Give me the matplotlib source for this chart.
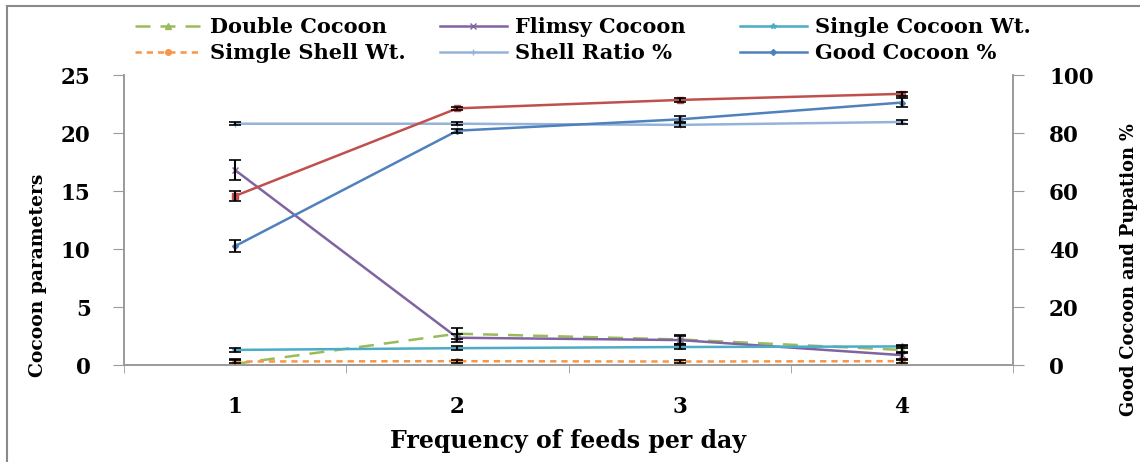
import matplotlib
matplotlib.use("Agg")
import matplotlib.pyplot as plt
from matplotlib.lines import Line2D
import numpy as np

# feeds per day
feeds = [1, 2, 3, 4]

# left axis (cocoon parameters)
double_cocoon = [0.1, 2.7, 2.2, 1.3]
double_err = [0.4, 0.45, 0.4, 0.3]
flimsy_cocoon = [16.8, 2.35, 2.15, 0.85]
flimsy_err = [0.88, 0.35, 0.35, 0.3]
single_cocoon_wt = [1.3, 1.45, 1.55, 1.6]
single_cocoon_err = [0.15, 0.15, 0.15, 0.15]
single_shell_wt = [0.3, 0.33, 0.3, 0.33]
single_shell_err = [0.12, 0.12, 0.12, 0.12]
shell_ratio = [20.8, 20.8, 20.7, 20.95]
shell_ratio_err = [0.14, 0.14, 0.14, 0.14]

# right axis (%)
good_cocoon = [41, 80.8, 84.7, 90.5]
good_err = [2.1, 0.7, 1.0, 1.6]
pupation = [58.3, 88.5, 91.4, 93.5]
pupation_err = [1.7, 0.55, 0.55, 0.8]

FONT = "DejaVu Serif"
GRID = "#9a9a9a"

fig = plt.figure(figsize=(11.4, 4.62), dpi=100)
ax = fig.add_axes([124 / 1140, 1 - 365 / 462, 889 / 1140, 290 / 462])
ax2 = ax.twinx()

eb = dict(ecolor="black", elinewidth=1.5, capsize=4.5, capthick=1.2, zorder=5)

def series(a, y, err, color, ls, marker, label, ms=4):
    a.errorbar(feeds, y, yerr=err, fmt="none", **eb)
    return a.plot(feeds, y, color=color, ls=ls, lw=1.8, marker=marker, ms=ms,
                  mew=1, label=label, zorder=4)[0]

h1 = series(ax, double_cocoon, double_err, "#9BBB59", (0, (6, 4)), "^", "Double Cocoon")
h2 = series(ax, flimsy_cocoon, flimsy_err, "#8064A2", "-", "x", "Flimsy Cocoon")
h3 = series(ax, single_cocoon_wt, single_cocoon_err, "#4BACC6", "-", "*", "Single Cocoon Wt.")
h4 = series(ax, single_shell_wt, single_shell_err, "#F79646", (0, (2.5, 2)), "o", "Simgle Shell Wt.")
h5 = series(ax, shell_ratio, shell_ratio_err, "#95B3D7", "-", "+", "Shell Ratio %")
h6 = series(ax2, good_cocoon, good_err, "#4F81BD", "-", "D", "Good Cocoon %", ms=3)
h7 = series(ax2, pupation, pupation_err, "#C0504D", "-", "s", "Pupation %")

ax.set_xlim(0.5, 4.5)
ax.set_ylim(0, 25)
ax2.set_ylim(0, 100)
ax.set_xticks(feeds)
ax.set_xticklabels([str(f) for f in feeds])
ax.set_xticks([0.5, 1.5, 2.5, 3.5, 4.5], minor=True)
ax.tick_params(axis="x", which="major", length=0, pad=22)
ax.tick_params(axis="x", which="minor", length=6, color=GRID, direction="out")
ax.set_yticks([0, 5, 10, 15, 20, 25])
ax2.set_yticks([0, 20, 40, 60, 80, 100])
ax.tick_params(axis="y", length=8, color=GRID, pad=16)
ax2.tick_params(axis="y", length=8, color=GRID, pad=18)

for a in (ax, ax2):
    a.spines["top"].set_visible(False)
    for s in ("left", "right", "bottom"):
        a.spines[s].set_color(GRID)
        a.spines[s].set_linewidth(1.2)
    for lab in a.get_xticklabels() + a.get_yticklabels():
        lab.set_fontfamily(FONT)
        lab.set_fontweight("bold")
        lab.set_fontsize(15.5)

ax.set_xlabel("Frequency of feeds per day", fontfamily=FONT, fontweight="bold",
              fontsize=17, labelpad=8)
ax.set_ylabel("Cocoon parameters", fontfamily=FONT, fontweight="bold", fontsize=13.5)
ax2.set_ylabel("Good Cocoon and Pupation %", fontfamily=FONT, fontweight="bold",
               fontsize=12.8)
ax.yaxis.set_label_coords(-0.087, 0.31)
ax2.yaxis.set_label_coords(1.12, 0.33)

# legend, three columns of two rows
cols = [([h1, h4], 135), ([h2, h5], 440), ([h3, h6], 740)]
for hs, xpix in cols:
    fig.legend(handles=hs, loc="upper left", bbox_to_anchor=(xpix / 1140, 1 - 17 / 462),
               frameon=False, handlelength=3.2, handletextpad=0.4, labelspacing=0.3,
               borderaxespad=0, borderpad=0,
               prop=dict(family=FONT, weight="bold", size=15))

# outer frame
fig.add_artist(Line2D([7 / 1140, 7 / 1140], [0, 1 - 6 / 462], color="#8a8a8a", lw=1.5))
fig.add_artist(Line2D([7 / 1140, 1], [1 - 6 / 462, 1 - 6 / 462], color="#8a8a8a", lw=1.5))

fig.savefig("out.png", dpi=100)
